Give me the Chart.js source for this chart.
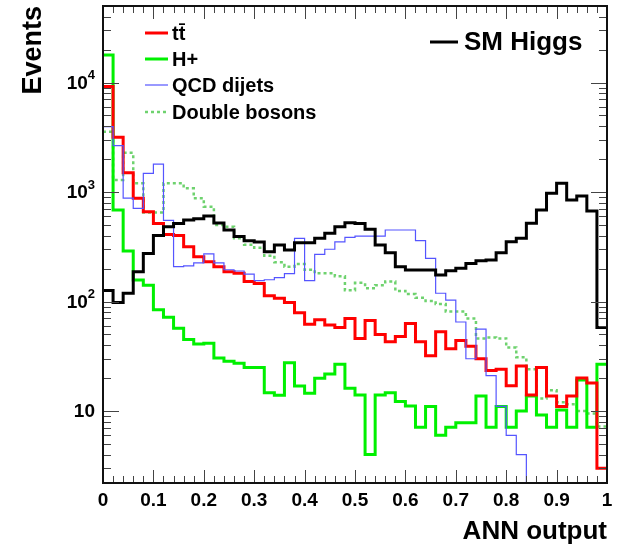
<!DOCTYPE html>
<html>
<head>
<meta charset="utf-8">
<script src="https://cdn.jsdelivr.net/npm/chart.js@4.4.1/dist/chart.umd.min.js"></script>
<style>
  html, body { margin: 0; padding: 0; background: #fff; }
  canvas { display: block; }
</style>
</head>
<body>
<canvas id="annChart" width="617" height="552"></canvas>
<script>
// ANN output distributions, 50 bins between 0 and 1
const nBins = 50;
const binEdges = Array.from({ length: nBins + 1 }, (_, i) => i / nBins);

const smHiggs = [126, 98, 119, 187, 275, 400, 482, 515, 555, 570, 604, 520, 450, 393, 358, 350, 285, 328, 295, 345,
                 345, 378, 420, 482, 525, 515, 456, 328, 279, 208, 194, 194, 194, 175, 191, 201, 223, 236, 240, 279,
                 352, 378, 518, 686, 973, 1200, 845, 919, 670, 58];
const ttbar = [9200, 3160, 1500, 875, 660, 517, 410, 400, 317, 257, 231, 208, 187, 181, 152, 146, 113, 107, 98, 79,
               62, 68, 61, 58, 70, 46, 67, 50, 43, 48, 63, 43, 32, 53, 37, 44, 39, 30, 23.4, 24,
               17, 25.8, 14, 25, 13.7, 11, 13.7, 20, 18, 3.0];
const chargedHiggs = [17800, 686, 290, 157, 141, 84, 72, 57, 45, 41, 41.5, 30.5, 28.5, 27.3, 25, 25, 14.7, 13.9, 27.6, 16.9,
                      14.5, 19.9, 21.8, 26.7, 16.1, 14, 4.0, 14, 14.7, 12.2, 11.1, 7.1, 11, 6.0, 7.1, 7.8, 7.8, 13.7, 7.1, 11,
                      7.1, 10, 13.7, 9.2, 7.1, 10.2, 7.1, 19.2, 7.1, 26.7];
const qcdDijets = [3950, 2650, 880, 710, 1480, 1800, 550, 208, 212, 225, 272, 225, 195, 190, 178, 155, 158, 165, 180, 378,
                   155, 270, 300, 350, 385, 395, 395, 395, 450, 450, 450, 360, 248, 119, 103, 65, 30, 56, 21, 11,
                   6, 4, 0, 0, 0, 0, 0, 0, 0, 0];
const doubleBosons = [3560, 1290, 2280, 1200, 650, 650, 1200, 1200, 1080, 875, 735, 500, 482, 378, 330, 310, 262, 228, 208, 220,
                      195, 181, 181, 170, 127, 148, 132, 141, 152, 125, 117, 108, 101, 95, 81, 81, 70, 46, 47, 46,
                      38, 31, 24, 13, 15.5, 12, 11.5, 10, 9.5, 7.2];

const xTickLabels = ['0', '0.1', '0.2', '0.3', '0.4', '0.5', '0.6', '0.7', '0.8', '0.9', '1'];
const yTickExponents = [1, 2, 3, 4];
const yMin = 2.2, yMax = 50000;

const FONT = '"Liberation Sans", Arial, Helvetica, sans-serif';

// step outline: one point per bin low edge, plus the closing edge
function histPoints(values) {
  return binEdges.map((edge, i) => ({
    x: edge,
    y: Math.max(values[Math.min(i, nBins - 1)], yMin)
  }));
}

function histDataset(label, values, color, width, order, dash) {
  return {
    label: label,
    data: histPoints(values),
    borderColor: color,
    borderWidth: width,
    borderDash: dash || [],
    borderJoinStyle: 'miter',
    borderCapStyle: 'butt',
    stepped: true,
    pointRadius: 0,
    fill: false,
    order: order
  };
}

const datasets = [
  histDataset('SM Higgs', smHiggs, '#000000', 3, 0),
  histDataset('QCD dijets', qcdDijets, 'rgb(85,85,255)', 1.2, 1),
  histDataset('t' + 't\u0304', ttbar, '#ff0000', 3, 2),
  histDataset('H+', chargedHiggs, '#00f000', 3, 3),
  histDataset('Double bosons', doubleBosons, 'rgb(110,210,110)', 2.5, 4, [3, 3])
];

function legendLine(ctx, ds, x0, x1, yy) {
  ctx.save();
  ctx.strokeStyle = ds.borderColor;
  ctx.lineWidth = ds.borderWidth;
  ctx.setLineDash(ds.borderDash);
  ctx.beginPath();
  ctx.moveTo(x0, yy);
  ctx.lineTo(x1, yy);
  ctx.stroke();
  ctx.restore();
}

// ROOT-like frame: inward ticks on all four sides, labels, titles and legends
const frameAndLabels = {
  id: 'frameAndLabels',
  afterDatasetsDraw(chart) {
    const { ctx, chartArea: a, scales: { x, y } } = chart;
    ctx.save();

    ctx.strokeStyle = '#444';
    ctx.lineWidth = 1;
    const tick = (x0, y0, x1, y1) => { ctx.beginPath(); ctx.moveTo(x0, y0); ctx.lineTo(x1, y1); ctx.stroke(); };

    for (let k = 0; k <= nBins; k++) {
      const px = Math.round(x.getPixelForValue(binEdges[k])) + 0.5;
      const len = k % 5 === 0 ? 13 : 7;
      tick(px, a.bottom, px, a.bottom - len);
      tick(px, a.top, px, a.top + len);
    }
    for (let d = 0; d <= 4; d++) {
      for (let m = 1; m <= 9; m++) {
        const v = m * Math.pow(10, d);
        if (v < yMin || v > yMax) continue;
        const py = Math.round(y.getPixelForValue(v)) + 0.5;
        const len = m === 1 ? 16 : 8;
        tick(a.left, py, a.left + len, py);
        tick(a.right, py, a.right - len, py);
      }
    }

    ctx.strokeStyle = '#111';
    ctx.lineWidth = 2;
    ctx.strokeRect(a.left, a.top, a.right - a.left, a.bottom - a.top);

    ctx.fillStyle = '#000';
    ctx.textBaseline = 'middle';

    // x tick labels
    ctx.font = 'bold 19px ' + FONT;
    ctx.textAlign = 'center';
    xTickLabels.forEach(lbl => {
      ctx.fillText(lbl, x.getPixelForValue(parseFloat(lbl)), a.bottom + 18);
    });

    // y tick labels with superscript exponents
    yTickExponents.forEach(e => {
      const py = y.getPixelForValue(Math.pow(10, e));
      const right = a.left - 8;
      if (e === 1) {
        ctx.font = 'bold 19px ' + FONT;
        ctx.textAlign = 'right';
        ctx.fillText('10', right, py + 1);
      } else {
        ctx.font = 'bold 13px ' + FONT;
        const ew = ctx.measureText(String(e)).width;
        ctx.textAlign = 'right';
        ctx.fillText(String(e), right, py - 7);
        ctx.font = 'bold 19px ' + FONT;
        ctx.fillText('10', right - ew, py + 1);
      }
    });

    // axis titles
    ctx.font = 'bold 26px ' + FONT;
    ctx.textAlign = 'right';
    ctx.fillText('ANN output', a.right, a.bottom + 49);

    ctx.save();
    ctx.translate(34, a.top);
    ctx.rotate(-Math.PI / 2);
    ctx.font = 'bold 27px ' + FONT;
    ctx.textAlign = 'right';
    ctx.fillText('Events', 0, 0);
    ctx.restore();

    // legends
    const byLabel = {};
    chart.data.datasets.forEach(ds => { byLabel[ds.label] = ds; });
    const leftEntries = ['t' + 't\u0304', 'H+', 'QCD dijets', 'Double bosons'];
    const rowY = [33, 59, 85, 112];
    ctx.font = 'bold 20px ' + FONT;
    ctx.textAlign = 'left';
    leftEntries.forEach((lbl, i) => {
      legendLine(ctx, byLabel[lbl], 145, 168, rowY[i]);
      ctx.fillText(lbl, 172, rowY[i] + 1);
    });
    legendLine(ctx, byLabel['SM Higgs'], 430, 458, 42);
    ctx.font = 'bold 26px ' + FONT;
    ctx.fillText('SM Higgs', 464, 43);

    ctx.restore();
  }
};

new Chart(document.getElementById('annChart').getContext('2d'), {
  type: 'line',
  data: { datasets: datasets },
  options: {
    responsive: false,
    animation: false,
    layout: { padding: { left: 103, right: 10, top: 6, bottom: 69 } },
    scales: {
      x: { type: 'linear', min: 0, max: 1, display: false },
      y: { type: 'logarithmic', min: yMin, max: yMax, display: false }
    },
    plugins: {
      legend: { display: false },
      tooltip: { enabled: false }
    }
  },
  plugins: [frameAndLabels]
});
</script>
</body>
</html>
